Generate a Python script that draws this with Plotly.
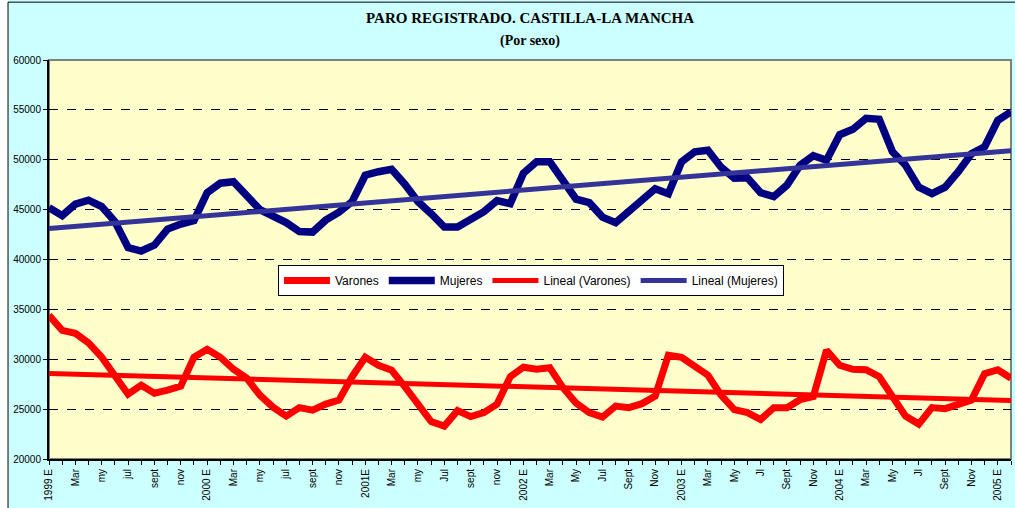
import numpy as np
import plotly.graph_objects as go

# ---- data (monthly, Jan 1999 - Feb 2005) ----
varones = [34400, 32900, 32600, 31650, 30200, 28400, 26500, 27400, 26600, 26900, 27300, 30200,
           31000, 30200, 29000, 28100, 26400, 25200, 24300, 25150, 24900, 25500, 25900, 28250,
           30200, 29400, 28900, 27250, 25400, 23750, 23300, 24850, 24250, 24650, 25500, 28250,
           29200, 29000, 29150, 27150, 25600, 24650, 24200, 25300, 25150, 25550, 26300, 30400,
           30200, 29400, 28400, 26400, 24950, 24650, 23950, 25150, 25150, 25950, 26250, 30900,
           29400, 29000, 28950, 28250, 26400, 24300, 23500, 25150, 25050, 25400, 25900, 28550,
           28950, 28100]
mujeres = [45200, 44400, 45550, 45950, 45300, 43800, 41200, 40850, 41450, 43050, 43550, 43900,
           46700, 47650, 47800, 46300, 45000, 44350, 43700, 42800, 42750, 43950, 44750, 45800,
           48450, 48800, 49050, 47550, 45800, 44600, 43250, 43250, 43950, 44800, 45900, 45600,
           48650, 49800, 49800, 47800, 46050, 45700, 44250, 43700, 44800, 45950, 47100, 46600,
           49800, 50800, 50950, 49250, 48150, 48200, 46700, 46300, 47450, 49450, 50400, 49950,
           52500, 53050, 54150, 54050, 50800, 49450, 47250, 46600, 47250, 48800, 50600, 51300,
           53950, 54800]
tick_labels = ["1999 E", "Mar", "my", "jul", "sept", "nov",
               "2000 E", "Mar", "my", "jul", "sept", "nov",
               "2001E", "Mar", "my", "Jul", "sept", "nov",
               "2002 E", "Mar", "My", "Jul", "Sept", "Nov",
               "2003 E", "Mar", "My", "Jl", "Sept", "Nov",
               "2004 E", "Mar", "My", "Jl", "Sept", "Nov",
               "2005 E"]
series_names = ["Varones", "Mujeres", "Lineal (Varones)", "Lineal (Mujeres)"]

x = np.arange(len(varones))
tickvals = list(x)
ticktext = []
for i in x:
    ticktext.append(tick_labels[i // 2] if i % 2 == 0 and i // 2 < len(tick_labels) else "")

def trend(y):
    m, b = np.polyfit(x, np.array(y, dtype=float), 1)
    return m * x + b

fig = go.Figure()
fig.add_trace(go.Scatter(x=x, y=varones, mode="lines", name=series_names[0],
                         line=dict(color="#FF0000", width=7)))
fig.add_trace(go.Scatter(x=x, y=mujeres, mode="lines", name=series_names[1],
                         line=dict(color="#000080", width=7.5)))
fig.add_trace(go.Scatter(x=x, y=trend(varones), mode="lines", name=series_names[2],
                         line=dict(color="#FF0000", width=5)))
fig.add_trace(go.Scatter(x=x, y=trend(mujeres), mode="lines", name=series_names[3],
                         line=dict(color="#333399", width=5)))

fig.update_layout(
    width=1015, height=508,
    margin=dict(l=49, r=4, t=60, b=49),
    paper_bgcolor="#CCFFFF",
    plot_bgcolor="#FFFFCC",
    font=dict(family="Liberation Sans, Arial", size=10, color="black"),
    showlegend=True,
    legend=dict(orientation="h", x=0.238, y=0.486, xanchor="left", yanchor="top",
                bgcolor="white", bordercolor="black", borderwidth=1,
                font=dict(size=12, family="Liberation Sans, Arial"),
                itemwidth=46, traceorder="normal"),
    annotations=[
        dict(text="<b>PARO REGISTRADO. CASTILLA-LA MANCHA</b>", xref="paper", yref="paper",
             x=0.5, y=1.105, xanchor="center", yanchor="middle", showarrow=False,
             font=dict(family="Liberation Serif, Times New Roman", size=15, color="black")),
        dict(text="<b>(Por sexo)</b>", xref="paper", yref="paper",
             x=0.5, y=1.048, xanchor="center", yanchor="middle", showarrow=False,
             font=dict(family="Liberation Serif, Times New Roman", size=14, color="black")),
    ],
    shapes=[
        dict(type="rect", xref="paper", yref="paper", x0=-0.06, x1=-0.0426, y0=-0.2, y1=1.2,
             fillcolor="white", line=dict(width=0), layer="below"),
        dict(type="rect", xref="paper", yref="paper", x0=-0.0426, x1=1.01, y0=-0.2, y1=1.145,
             fillcolor="rgba(0,0,0,0)", line=dict(color="black", width=1)),
        dict(type="rect", xref="paper", yref="paper", x0=0, x1=1, y0=0, y1=1,
             fillcolor="rgba(0,0,0,0)", line=dict(color="#808080", width=2), layer="below"),
    ],
)
fig.update_xaxes(range=[0, len(varones) - 1], tickmode="array", tickvals=tickvals,
                 ticktext=ticktext, tickangle=-90, ticks="outside", ticklen=4,
                 tickcolor="black", showline=True, linecolor="black", linewidth=2,
                 showgrid=False, zeroline=False, tickfont=dict(size=10), automargin=False)
fig.update_yaxes(range=[20000, 60000], dtick=5000, tickformat="d", ticks="outside",
                 ticklen=4, tickcolor="black", showline=True, linecolor="black", linewidth=2,
                 showgrid=True, gridcolor="black", griddash="dash", gridwidth=1,
                 zeroline=False, tickfont=dict(size=10), automargin=False)

fig.write_html("out.html", config={"displayModeBar": False},
               post_script="document.body.style.margin='0';")
